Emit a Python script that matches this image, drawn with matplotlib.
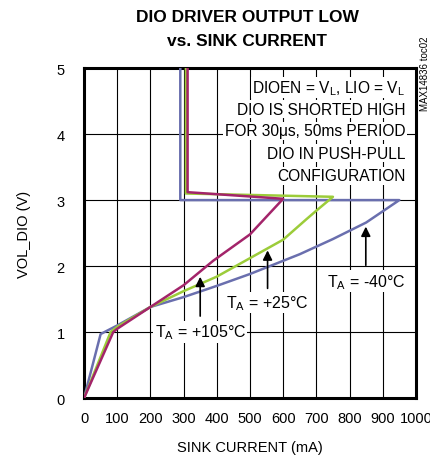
import matplotlib
matplotlib.use("Agg")
import matplotlib.pyplot as plt

# sink current (mA) vs VOL_DIO (V)
x_m40 = [0, 50, 100, 200, 300, 400, 500, 560, 650, 750, 850, 950, 290, 290]
y_m40 = [0, 0.97, 1.1, 1.38, 1.53, 1.7, 1.88, 2.0, 2.18, 2.41, 2.66, 3.0, 3.0, 5.0]

x_25 = [0, 80, 100, 200, 300, 400, 500, 550, 600, 670, 700, 750, 307, 307]
y_25 = [0, 1.0, 1.08, 1.38, 1.62, 1.84, 2.12, 2.26, 2.4, 2.71, 2.84, 3.05, 3.1, 5.0]

x_105 = [0, 88, 100, 200, 300, 389, 500, 600, 312, 312]
y_105 = [0, 1.0, 1.05, 1.38, 1.71, 2.08, 2.48, 3.02, 3.12, 5.0]

xticks = [0, 100, 200, 300, 400, 500, 600, 700, 800, 900, 1000]
yticks = [0, 1, 2, 3, 4, 5]

narrow = ['Liberation Sans Narrow', 'Liberation Sans', 'DejaVu Sans']
plt.rcParams['font.family'] = ['Liberation Sans', 'DejaVu Sans']

fig = plt.figure(figsize=(4.31, 4.64), dpi=100)
ax = fig.add_axes([0.195, 0.14, 0.77, 0.711])

ax.plot(x_m40, y_m40, color='#6a6fae', lw=1.8, zorder=3)
ax.plot(x_25, y_25, color='#9ccc3a', lw=1.8, zorder=3)
ax.plot(x_105, y_105, color='#a3246a', lw=1.8, zorder=3)

ax.set_xlim(0, 1000)
ax.set_ylim(0, 5)
ax.set_xticks(xticks)
ax.set_yticks(yticks)
ax.grid(True, color='black', lw=0.8)
ax.tick_params(length=0, labelsize=10.5)
ax.tick_params(axis='x', pad=9)
ax.tick_params(axis='y', pad=14)
for s in ax.spines.values():
    s.set_linewidth(2.2)

ax.set_xlabel('SINK CURRENT (mA)', fontsize=10.5, labelpad=11)
ax.set_ylabel('VOL_DIO (V)', fontsize=10.5, labelpad=18)

fig.text(0.573, 0.9375, 'DIO DRIVER OUTPUT LOW\nvs. SINK CURRENT', ha='center', va='center',
         fontsize=12.5, fontweight='bold', family=narrow, linespacing=1.75)

box = dict(facecolor='white', edgecolor='none', pad=1)
note = ['DIOEN = V$_\\mathregular{L}$, LIO = V$_\\mathregular{L}$', 'DIO IS SHORTED HIGH',
        'FOR 30\u03bcs, 50ms PERIOD', 'DIO IN PUSH-PULL', 'CONFIGURATION']
note_y = [4.71, 4.38, 4.05, 3.71, 3.37]
for t, yy in zip(note, note_y):
    ax.text(968, yy, t, ha='right', va='center', fontsize=11.2, family=narrow, bbox=box, zorder=4)

labels = ['T$_\\mathregular{A}$ = +105\u00b0C', 'T$_\\mathregular{A}$ = +25\u00b0C', 'T$_\\mathregular{A}$ = -40\u00b0C']
lab_x = [350, 553, 849]
lab_y = [1.0, 1.45, 1.77]
tip_y = [1.88, 2.28, 2.64]
tail_y = [1.2, 1.62, 1.97]
for t, lx, ly, ty, sy in zip(labels, lab_x, lab_y, tip_y, tail_y):
    ax.text(lx, ly, t, ha='center', va='center', fontsize=11.5, family=narrow, bbox=box, zorder=4)
    ax.annotate('', xy=(lx, ty), xytext=(lx, sy),
                arrowprops=dict(arrowstyle='-|>', color='black', lw=1.2, mutation_scale=14), zorder=5)

fig.text(0.985, 0.84, 'MAX14836 toc02', rotation=90, ha='center', va='center', fontsize=7)

fig.savefig('out.png', dpi=100)
